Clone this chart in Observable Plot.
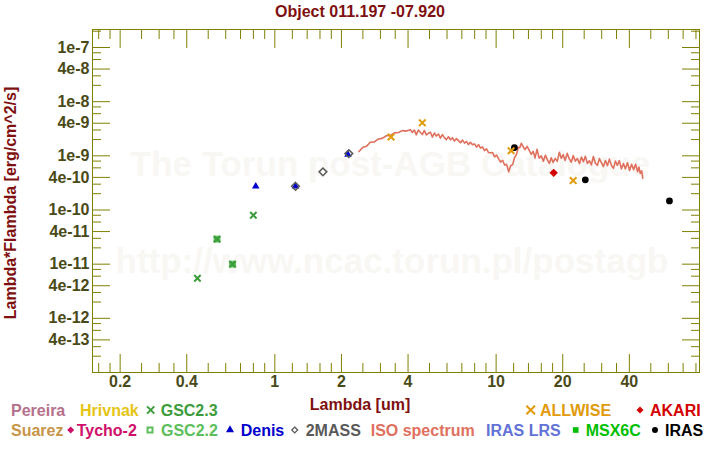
<!DOCTYPE html>
<html><head><meta charset="utf-8">
<script src="https://cdn.jsdelivr.net/npm/d3@7"></script>
<script src="https://cdn.jsdelivr.net/npm/@observablehq/plot@0.6"></script>
<style>html,body{margin:0;padding:0;background:#fff;}</style>
</head><body><div id="chart"></div>
<script>
// ---------- text ----------
const titleText = "Object 011.197 -07.920";
const xLabelText = "Lambda [um]";
const yLabelText = "Lambda*Flambda [erg/cm^2/s]";
const watermark1 = "The Torun post-AGB Catalogue";
const watermark2 = "http://www.ncac.torun.pl/postagb";

// ---------- ticks ----------
const xMajorTicks = [0.2, 0.4, 1, 2, 4, 10, 20, 40];
const xTickLabels = ["0.2", "0.4", "1", "2", "4", "10", "20", "40"];
const xMinorTicks = [0.16, 0.18, 0.25, 0.3, 0.35, 0.5, 0.6, 0.7, 0.8, 0.9, 1.2, 1.4, 1.6, 1.8,
  2.5, 3, 3.5, 5, 6, 7, 8, 9, 12, 14, 16, 18, 25, 30, 35, 50, 60, 70, 80];
const yMajorTicks = [1e-7, 4e-8, 1e-8, 4e-9, 1e-9, 4e-10, 1e-10, 4e-11, 1e-11, 4e-12, 1e-12, 4e-13];
const yTickLabels = ["1e-7", "4e-8", "1e-8", "4e-9", "1e-9", "4e-10", "1e-10", "4e-11", "1e-11", "4e-12", "1e-12", "4e-13"];
const yMinorTicks = [2e-7, 8e-8, 6e-8, 3e-8, 2e-8, 8e-9, 6e-9, 3e-9, 2e-9, 8e-10, 6e-10, 3e-10, 2e-10,
  8e-11, 6e-11, 3e-11, 2e-11, 8e-12, 6e-12, 3e-12, 2e-12, 8e-13, 6e-13, 3e-13, 2e-13];

// ---------- photometry (wavelength um, lambda*F_lambda erg/cm2/s) ----------
const gsc23Wave = [0.447, 0.548, 0.644, 0.80];
const gsc23Flux = [5.5e-12, 2.9e-11, 1.0e-11, 8.0e-11];
const gsc22Wave = [0.548, 0.644];
const gsc22Flux = [2.9e-11, 1.0e-11];
const denisWave = [0.82, 1.24, 2.14];
const denisFlux = [2.74e-10, 2.74e-10, 1.05e-9];
const twomassWave = [1.24, 1.65, 2.16];
const twomassFlux = [2.74e-10, 5.06e-10, 1.10e-9];
const allwiseWave = [3.35, 4.64, 11.69, 22.3];
const allwiseFlux = [2.23e-9, 4.07e-9, 1.24e-9, 3.5e-10];
const irasWave = [12.1, 25.3, 60.7];
const irasFlux = [1.42e-9, 3.6e-10, 1.47e-10];
const akariWave = [18.2];
const akariFlux = [4.85e-10];

// ---------- ISO spectrum (flux in units of 1e-9 erg/cm2/s) ----------
const isoWave = [2.40, 2.50, 2.60, 2.70, 2.82, 2.94, 3.06, 3.19, 3.33, 3.47, 3.62, 3.77, 3.93,
  4.10, 4.18, 4.27, 4.36, 4.45, 4.54, 4.64, 4.74, 4.84, 4.94, 5.05, 5.15, 5.26, 5.37, 5.49, 5.60,
  5.72, 5.84, 5.96, 6.09, 6.22, 6.35, 6.48, 6.62, 6.76, 6.90, 7.05, 7.20, 7.35, 7.50, 7.66, 7.82,
  7.99, 8.16, 8.33, 8.50, 8.68, 8.86, 9.05, 9.24, 9.44, 9.64, 9.84, 10.05, 10.26, 10.48, 10.70,
  10.92, 11.15, 11.40, 11.63, 11.88, 12.1, 12.35, 12.6, 12.8, 13.0, 13.25, 13.5, 13.8, 14.1, 14.4,
  14.7, 15.0, 15.3, 15.65, 16.0, 16.35, 16.7, 17.05, 17.4, 17.75, 18.1, 18.5, 18.9, 19.3, 19.7,
  20.1, 20.5, 20.95, 21.4, 21.85, 22.3, 22.8, 23.3, 23.8, 24.3, 24.8, 25.3, 25.85, 26.4, 26.95,
  27.5, 28.1, 28.7, 29.3, 29.9, 30.55, 31.2, 31.85, 32.5, 33.2, 33.9, 34.6, 35.3, 36.05, 36.8,
  37.6, 38.4, 39.25, 40.1, 40.95, 41.8, 42.7, 43.6, 44.2, 44.8, 45.5, 46.0];
const isoFluxE9 = [1.20, 1.44, 1.51, 1.78, 1.81, 2.05, 2.10, 2.35, 2.39, 2.65, 2.70, 2.92, 2.86,
  3.04, 2.71, 2.99, 2.44, 3.00, 2.72, 2.47, 2.94, 2.43, 2.61, 2.73, 2.22, 2.64, 2.32, 2.53, 2.12,
  2.47, 2.17, 1.99, 2.25, 1.98, 2.16, 1.87, 2.08, 1.91, 1.75, 1.95, 1.72, 1.84, 1.61, 1.78, 1.60,
  1.66, 1.45, 1.61, 1.39, 1.46, 1.25, 1.35, 1.15, 1.14, 1.15, 0.958, 1.03, 0.880, 0.768, 0.829,
  0.676, 0.699, 0.506, 0.656, 0.688, 0.915, 1.05, 1.42, 1.42, 1.71, 1.47, 1.30, 1.49, 1.27, 1.07,
  1.21, 0.918, 1.32, 0.907, 0.998, 0.798, 1.03, 0.844, 0.724, 0.917, 0.758, 0.899, 0.791, 1.16, 0.899,
  1.05, 0.822, 1.11, 0.884, 0.763, 1.01, 0.800, 0.891, 0.714, 0.954, 0.781, 0.979, 0.721, 0.812, 0.680,
  0.971, 0.732, 0.667, 0.891, 0.746, 0.633, 0.822, 0.655, 0.869, 0.663, 0.587, 0.800, 0.667, 0.817, 0.575,
  0.719, 0.575, 0.749, 0.537, 0.698, 0.556, 0.701, 0.508, 0.621, 0.475, 0.530, 0.385];

// ---------- legend ----------
const legendLabels = ["Pereira", "Hrivnak", "GSC2.3", "ALLWISE", "AKARI",
  "Suarez", "Tycho-2", "GSC2.2", "Denis", "2MASS", "ISO spectrum", "IRAS LRS", "MSX6C", "IRAS"];
const legendColors = ["#b5708c", "#e6c414", "#3c9c3c", "#e09a0a", "#d40000",
  "#c8944a", "#cf0f6a", "#5cbf5c", "#0000cc", "#5a5a5a", "#e0705e", "#6272d6", "#00bf00", "#000000"];
const legendSymbols = [null, null, "times", "times", "diamond", null, "diamond", "square-open", "triangle",
  "diamond-open", null, null, "square", "circle"];

// ---------- styles ----------
const olive = "#808000";
const tickText = "#4a4a18";
const darkRed = "#7f1010";
const font = "'Liberation Sans', Arial, Helvetica, sans-serif";

const pts = (w, f) => w.map((x, i) => ({x, y: f[i]}));
const tickAxis = (axis, anchor, ticks, size) =>
  axis(ticks, {anchor, tickSize: -size, fill: "none", stroke: olive, strokeWidth: 1, label: null});

const plot = Plot.plot({
  width: 720, height: 450,
  marginLeft: 92, marginRight: 21, marginTop: 29, marginBottom: 78,
  style: {background: "#fff", fontFamily: font},
  x: {type: "log", domain: [0.15, 83]},
  y: {type: "log", domain: [1e-13, 2.15e-7]},
  marks: [
    Plot.text([watermark1], {text: d => d, frameAnchor: "middle", dx: -6, dy: -36, fontSize: 35, fontWeight: "bold", fill: "#f9f7f3"}),
    Plot.text([watermark2], {text: d => d, frameAnchor: "middle", dx: -4, dy: 61, fontSize: 35, fontWeight: "bold", fill: "#f9f7f3"}),
    Plot.frame({stroke: olive, strokeWidth: 1}),
    tickAxis(Plot.axisX, "bottom", xMajorTicks, 18),
    tickAxis(Plot.axisX, "bottom", xMinorTicks, 9),
    tickAxis(Plot.axisX, "top", xMajorTicks, 18),
    tickAxis(Plot.axisX, "top", xMinorTicks, 9),
    tickAxis(Plot.axisY, "left", yMajorTicks, 18),
    tickAxis(Plot.axisY, "left", yMinorTicks, 9),
    tickAxis(Plot.axisY, "right", yMajorTicks, 18),
    tickAxis(Plot.axisY, "right", yMinorTicks, 9),
    Plot.text(xMajorTicks, {x: d => d, frameAnchor: "bottom", lineAnchor: "top", dy: 3,
      text: d => xTickLabels[xMajorTicks.indexOf(d)], fontSize: 16, fontWeight: "bold", fill: tickText}),
    Plot.text(yMajorTicks, {y: d => d, frameAnchor: "left", textAnchor: "end", dx: -3,
      text: d => yTickLabels[yMajorTicks.indexOf(d)], fontSize: 16, fontWeight: "bold", fill: tickText}),
    Plot.line(isoWave.map((x, i) => ({x, y: isoFluxE9[i] * 1e-9})), {x: "x", y: "y", stroke: "#e0705e", strokeWidth: 1.6}),
    Plot.dot(pts(gsc22Wave, gsc22Flux), {x: "x", y: "y", symbol: "square", r: 3.9, fill: "#5cbf5c"}),
    Plot.dot(pts(gsc23Wave, gsc23Flux), {x: "x", y: "y", symbol: "times", r: 3, stroke: "#3c9c3c", strokeWidth: 2}),
    Plot.dot(pts(denisWave, denisFlux), {x: "x", y: "y", symbol: "triangle", r: 2.8, fill: "#0000cc"}),
    Plot.dot(pts(twomassWave, twomassFlux), {x: "x", y: "y", symbol: "diamond2", r: 3.5, fill: "none", stroke: "#5a5a5a", strokeWidth: 1.5}),
    Plot.dot(pts(irasWave, irasFlux), {x: "x", y: "y", symbol: "circle", r: 3.4, fill: "#000"}),
    Plot.dot(pts(akariWave, akariFlux), {x: "x", y: "y", symbol: "diamond2", r: 3.8, fill: "#d40000"}),
    Plot.dot(pts(allwiseWave, allwiseFlux), {x: "x", y: "y", symbol: "times", r: 3.1, stroke: "#e09a0a", strokeWidth: 2})
  ]
});

document.getElementById("chart").appendChild(plot);
const svg = d3.select(plot);

// title and axis labels
svg.append("text").attr("x", 360).attr("y", 16.5).attr("text-anchor", "middle")
  .attr("font-family", font).attr("font-size", 16).attr("font-weight", "bold").attr("fill", darkRed).text(titleText);
svg.append("text").attr("x", 360).attr("y", 410).attr("text-anchor", "middle")
  .attr("font-family", font).attr("font-size", 16).attr("font-weight", "bold").attr("fill", darkRed).text(xLabelText);
svg.append("text").attr("transform", "translate(16,203) rotate(-90)").attr("text-anchor", "middle")
  .attr("font-family", font).attr("font-size", 16).attr("font-weight", "bold").attr("fill", darkRed).text(yLabelText);

// legend layout: [glyph x, text x, row]
const legendLayout = [[null, 11, 0], [null, 80, 0], [150.7, 160.7, 0], [530.7, 540, 0], [640, 650, 0],
  [null, 11, 1], [70.7, 76.7, 1], [150, 161, 1], [230, 240.7, 1], [294.7, 305.7, 1],
  [null, 370.7, 1], [null, 486, 1], [575.7, 585.7, 1], [655, 665, 1]];
const rowBase = [416, 436];
const symbolDefs = {
  "times": [d3.symbolTimes, 36, false],
  "diamond": [d3.symbolDiamond2, 31, true],
  "diamond-open": [d3.symbolDiamond2, 22, false],
  "square": [d3.symbolSquare, 32, true],
  "square-open": [d3.symbolSquare, 25, false],
  "triangle": [d3.symbolTriangle, 28, true],
  "circle": [d3.symbolCircle, 28, true]
};
const lg = svg.append("g").attr("text-anchor", "start");
legendLabels.forEach((name, i) => {
  const [gx, tx, row] = legendLayout[i];
  const base = rowBase[row];
  const col = legendColors[i];
  lg.append("text").attr("x", tx).attr("y", base).attr("text-anchor", "start").attr("font-family", font).attr("font-size", 16)
    .attr("font-weight", "bold").attr("fill", col).text(name);
  const s = legendSymbols[i];
  if (s) {
    const [type, size, filled] = symbolDefs[s];
    const sz = name === "ALLWISE" ? 50 : size;
    lg.append("path").attr("d", d3.symbol(type, sz)())
      .attr("transform", `translate(${gx},${base - 6})`)
      .attr("fill", filled ? col : "none").attr("stroke", filled ? "none" : col)
      .attr("stroke-width", s === "diamond-open" ? 1.3 : 2);
  }
});
</script></body></html>
